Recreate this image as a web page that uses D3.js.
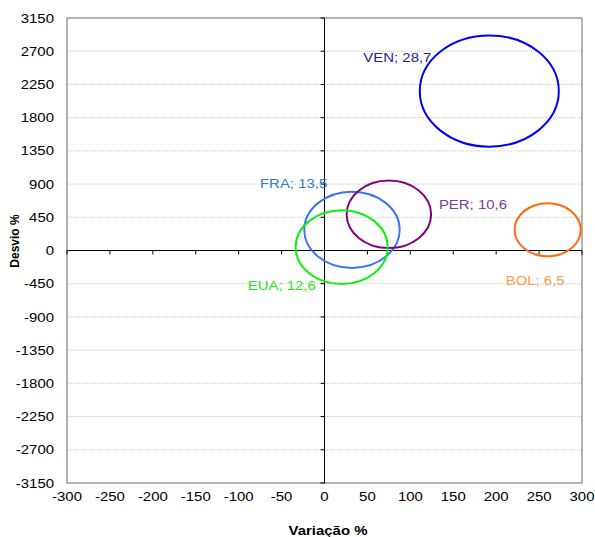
<!DOCTYPE html>
<html><head><meta charset="utf-8">
<script src="https://cdn.jsdelivr.net/npm/d3@7"></script>
<style>
html,body{margin:0;padding:0;background:#fff;}
svg text{font-family:"Liberation Sans",Arial,sans-serif;}
</style></head>
<body>
<svg id="chart" width="595" height="537"></svg>
<script>
// Data
const countries = ["VEN", "FRA", "PER", "EUA", "BOL"];
const variacao  = [192, 32, 75, 20, 260];          // x (%)
const desvio    = [2160, 280, 490, 45, 280];       // y (%)
const bubbleSz  = [28.7, 13.5, 10.6, 12.6, 6.5];
const sizeLabels = ["28,7", "13,5", "10,6", "12,6", "6,5"];
const xTicks = [-300,-250,-200,-150,-100,-50,0,50,100,150,200,250,300];
const yTicks = [3150,2700,2250,1800,1350,900,450,0,-450,-900,-1350,-1800,-2250,-2700,-3150];

// Styles
const strokeColors = ["#0000ff", "#3f72f2", "#800080", "#11ee11", "#ff6a10"];
const labelColors  = ["#23239a", "#2f7fc6", "#7d3c9e", "#1ee81e", "#ff9a45"];
const labelOffsets = [[-126,-34],[-92,-46],[50,-10],[-94,38],[-42,51]];
const SX = 1.15; // horizontal text stretch seen in the reference

const svg = d3.select("#chart");
const L = 67, R = 582, T = 18, B = 483;
const x = d3.scaleLinear().domain([-300,300]).range([L,R]);
const y = d3.scaleLinear().domain([-3150,3150]).range([B,T]);
const r = d3.scaleSqrt().domain([0,28.7]).range([0,69.5]);
const yAspect = 0.8;

function stretched(sel, fx, fy){
  return sel.attr("transform", (d,i)=>`translate(${fx(d,i)},${fy(d,i)}) scale(${SX},1)`);
}

// gridlines
svg.append("g").selectAll("line").data(yTicks.filter(d=>d!==3150 && d!==-3150 && d!==0)).join("line")
  .attr("x1",L).attr("x2",R).attr("y1",d=>y(d)).attr("y2",d=>y(d))
  .attr("stroke","#c8c8c8").attr("stroke-width",1).attr("stroke-dasharray","1,1");

// frame
svg.append("rect").attr("x",L).attr("y",T).attr("width",R-L).attr("height",B-T)
  .attr("fill","none").attr("stroke","#8a8a8a").attr("stroke-width",1.3);

// zero axes
svg.append("line").attr("x1",L).attr("x2",R).attr("y1",y(0)).attr("y2",y(0)).attr("stroke","#000").attr("stroke-width",1);
svg.append("line").attr("x1",x(0)).attr("x2",x(0)).attr("y1",T).attr("y2",B).attr("stroke","#000").attr("stroke-width",1);
svg.append("g").selectAll("line").data(xTicks).join("line")
  .attr("x1",d=>x(d)).attr("x2",d=>x(d)).attr("y1",y(0)).attr("y2",y(0)+4).attr("stroke","#000");
svg.append("g").selectAll("line").data(yTicks).join("line")
  .attr("x1",x(0)-4).attr("x2",x(0)).attr("y1",d=>y(d)).attr("y2",d=>y(d)).attr("stroke","#000");

// tick labels
stretched(svg.append("g").selectAll("text").data(yTicks).join("text"), ()=>L-13, d=>y(d))
  .attr("text-anchor","end").attr("dominant-baseline","central")
  .attr("font-size",13).attr("fill","#000").text(d=>d);
stretched(svg.append("g").selectAll("text").data(xTicks).join("text"), d=>x(d), ()=>B+13)
  .attr("text-anchor","middle").attr("dominant-baseline","central")
  .attr("font-size",13).attr("fill","#000").text(d=>d);

// axis titles
svg.append("text").attr("transform",`translate(328,530) scale(${SX},1)`).attr("text-anchor","middle").attr("dominant-baseline","central")
  .attr("font-size",13).attr("font-weight","bold").text("Variação %");
svg.append("text").attr("transform","translate(15,241) rotate(-90)").attr("text-anchor","middle").attr("dominant-baseline","central")
  .attr("font-size",12).attr("font-weight","bold").text("Desvio %");

// bubbles
const data = countries.map((c,i)=>({c, x:variacao[i], y:desvio[i], s:bubbleSz[i], lab:sizeLabels[i], i}));
svg.append("g").selectAll("ellipse").data(data).join("ellipse")
  .attr("cx",d=>x(d.x)).attr("cy",d=>y(d.y))
  .attr("rx",d=>r(d.s)).attr("ry",d=>r(d.s)*yAspect)
  .attr("fill","none").attr("stroke",d=>strokeColors[d.i]).attr("stroke-width",2);

stretched(svg.append("g").selectAll("text").data(data).join("text"),
    d=>x(d.x)+labelOffsets[d.i][0], d=>y(d.y)+labelOffsets[d.i][1])
  .attr("dominant-baseline","central").attr("font-size",13)
  .attr("fill",d=>labelColors[d.i]).text(d=>d.c+"; "+d.lab);
</script>
</body></html>
